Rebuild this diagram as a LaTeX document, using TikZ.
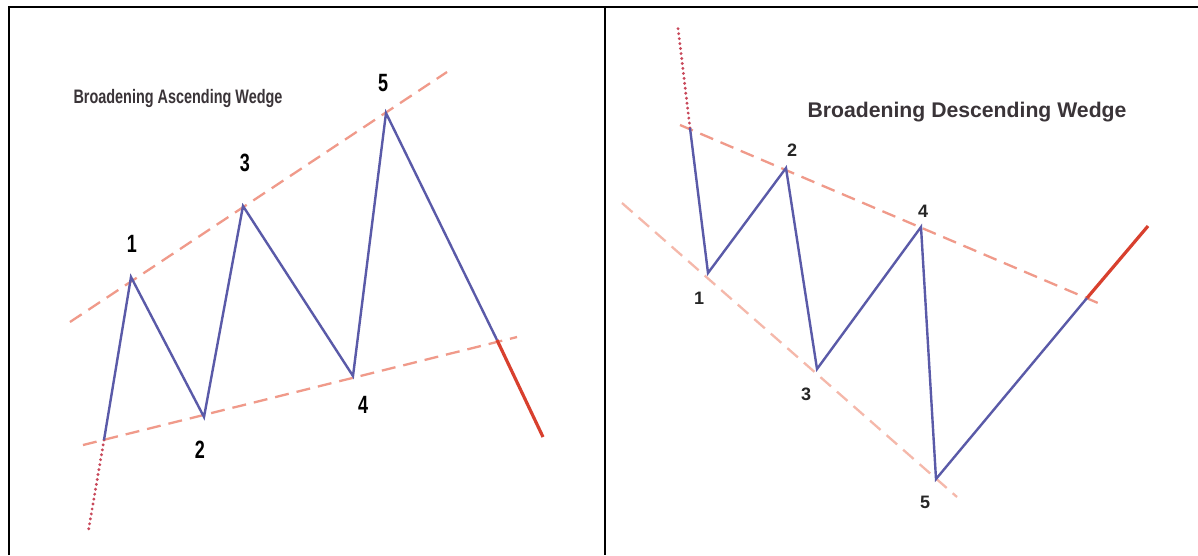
\documentclass[tikz,border=0pt]{standalone}
\usepackage{fontspec}
\setmainfont{Liberation Sans}
\definecolor{wave}{HTML}{5A5AA8}
\definecolor{trend}{HTML}{F09A8A}
\definecolor{trendlight}{HTML}{F5B8AA}
\definecolor{breakred}{HTML}{D8402E}
\definecolor{dotred}{HTML}{C8485A}
\definecolor{titlegray}{HTML}{3A3438}
\tikzset{
  wavepath/.style={draw=wave, line width=2.4pt, line join=miter},
  trendline/.style={draw=trend, line width=2.3pt, dash pattern=on 14pt off 8pt},
  trendlinelight/.style={draw=trendlight, line width=2.3pt, dash pattern=on 14pt off 8pt},
  breakline/.style={draw=breakred, line width=3.2pt},
  dotline/.style={draw=dotred, line width=3.2pt, line cap=round, dash pattern=on 0pt off 5pt},
  framestyle/.style={draw=black, line width=2.4pt},
  lbl/.style={font=\bfseries\fontsize{25}{25}\selectfont, text=black, xscale=0.72, inner sep=0pt},
  rlbl/.style={font=\bfseries\fontsize{18}{18}\selectfont, text=black!85, inner sep=0pt},
  ltitle/.style={font=\bfseries\fontsize{19.5}{19.5}\selectfont, text=titlegray, xscale=0.74, inner sep=0pt},
  rtitle/.style={font=\bfseries\fontsize{21.2}{21.2}\selectfont, text=titlegray, inner sep=0pt},
}
\begin{document}
\begin{tikzpicture}[x=1pt,y=-1pt]
\useasboundingbox (0,0) rectangle (1198,555);
\fill[white] (0,0) rectangle (1198,555);
% frame
\coordinate (fbl) at (9,555);
\coordinate (ftl) at (9,7);
\coordinate (ftr) at (1198,7);
\coordinate (dtop) at (605,7);
\coordinate (dbot) at (605,555);
\draw[framestyle] (fbl) -- (ftl) -- (ftr);
\draw[framestyle] (dtop) -- (dbot);

% ---------- left panel ----------
\node[ltitle] (lt) at (178,98) {Broadening Ascending Wedge};
\coordinate (uA) at (70,322);
\coordinate (uB) at (447,72);
\coordinate (lA) at (83,445);
\coordinate (lB) at (517,337);
\draw[trendline] (uA) -- (uB);
\draw[trendline] (lA) -- (lB);
\coordinate (s0) at (104,440);
\coordinate (d0) at (88,533);
\coordinate (p1) at (131,277);
\coordinate (p2) at (204,417);
\coordinate (p3) at (243,206);
\coordinate (p4) at (353,376);
\coordinate (p5) at (386,113);
\coordinate (bk) at (497,340);
\coordinate (be) at (543,437);
\draw[dotline] (s0) -- (d0);
\draw[wavepath] (s0) -- (p1) -- (p2) -- (p3) -- (p4) -- (p5) -- (bk);
\draw[breakline] (bk) -- (be);
\node[lbl] (n1) at (132,244) {1};
\node[lbl] (n2) at (200,450) {2};
\node[lbl] (n3) at (245,163) {3};
\node[lbl] (n4) at (363,405) {4};
\node[lbl] (n5) at (383,83) {5};

% ---------- right panel ----------
\node[rtitle] (rt) at (967,112) {Broadening Descending Wedge};
\coordinate (ruA) at (680,125);
\coordinate (ruB) at (1098,303);
\coordinate (rlA) at (622,203);
\coordinate (rlB) at (957,497);
\draw[trendline] (ruA) -- (ruB);
\draw[trendlinelight] (rlA) -- (rlB);
\coordinate (r0) at (690,128);
\coordinate (rd) at (678,28);
\coordinate (q1) at (708,273);
\coordinate (q2) at (786,168);
\coordinate (q3) at (817,369);
\coordinate (q4) at (921,227);
\coordinate (q5) at (936,479);
\coordinate (rbk) at (1087,298);
\coordinate (rbe) at (1148,226);
\draw[dotline] (r0) -- (rd);
\draw[wavepath] (r0) -- (q1) -- (q2) -- (q3) -- (q4) -- (q5) -- (rbk);
\draw[breakline] (rbk) -- (rbe);
\node[rlbl] (m1) at (699,298) {1};
\node[rlbl] (m2) at (792,150) {2};
\node[rlbl] (m3) at (806,394) {3};
\node[rlbl] (m4) at (923,211) {4};
\node[rlbl] (m5) at (925,502) {5};
\end{tikzpicture}
\end{document}
